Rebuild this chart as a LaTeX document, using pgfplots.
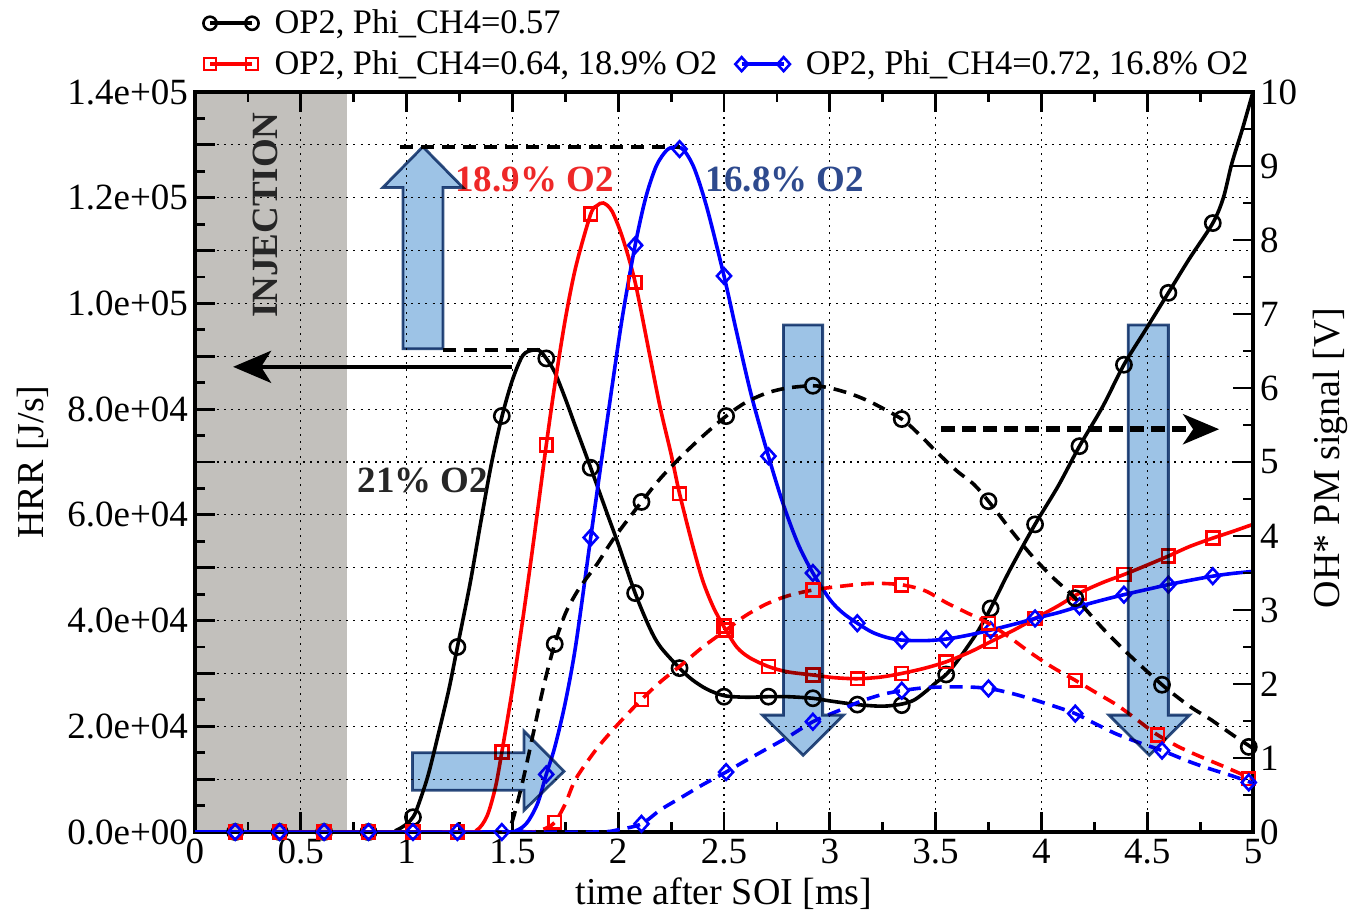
\documentclass[border=0pt]{standalone}
\usepackage{pgfplots}
\pgfplotsset{compat=1.18}
\usepackage{fontspec}
\setmainfont{Liberation Serif}
\usetikzlibrary{arrows.meta}

\definecolor{injgray}{RGB}{194,192,188}
\definecolor{arrfill}{RGB}{157,195,230}
\definecolor{arredge}{RGB}{47,79,128}
\definecolor{txtred}{RGB}{238,40,40}
\definecolor{txtblue}{RGB}{46,74,142}
\definecolor{txtgray}{RGB}{38,38,38}

\newcommand\fs{\fontsize{18.5}{22}\selectfont}
\newcommand\lfs{\fontsize{19}{22}\selectfont}
\newcommand\gfs{\fontsize{17.2}{20}\selectfont}

\pgfplotsset{
  solidln/.style={line width=1.8pt, smooth, tension=0.5, forget plot},
  dashln/.style={line width=1.8pt, smooth, tension=0.5, dash pattern=on 6.5pt off 4pt, forget plot},
  mk/.style={only marks, forget plot},
  circ/.style={mark=o, mark size=3.8pt, mark options={solid, line width=1.3pt}},
  sqr/.style={mark=square, mark size=3.2pt, mark options={solid, line width=1.3pt}},
  dia/.style={mark=diamond, mark size=3.9pt, mark options={solid, line width=1.3pt, xscale=1.2}},
}
\tikzset{blockarrow/.style={fill=arrfill, draw=arredge, line width=1.4pt, line join=miter}}

\begin{document}
\begin{tikzpicture}
\begin{axis}[
  set layers,
  at={(0,0)}, anchor=south west,
  scale only axis, width=529pt, height=370pt,
  xmin=0, xmax=5, ymin=0, ymax=140000,
  axis line style={line width=1.6pt},
  tick align=inside,
  major tick length=10pt, minor tick length=5pt,
  every tick/.style={black, line width=1.4pt},
  xtick={0,0.5,...,5}, minor x tick num=1,
  xticklabels={0,0.5,1,1.5,2,2.5,3,3.5,4,4.5,5},
  xtick pos=both, xticklabel pos=lower,
  ytick={0,10000,...,140000},
  yticklabels={0.0e+00,{},2.0e+04,{},4.0e+04,{},6.0e+04,{},8.0e+04,{},1.0e+05,{},1.2e+05,{},1.4e+05},
  minor y tick num=1,
  ytick pos=left,
  scaled y ticks=false,
  grid=major,
  major grid style={black, line width=0.6pt, dash pattern=on 1pt off 2.6pt},
  ticklabel style={font=\fs},
  legend columns=2,
  legend cell align=left,
  legend style={draw=none, fill=none, at={(0,1)}, anchor=south west, xshift=4pt, yshift=5pt,
    font=\gfs, inner sep=0pt, row sep=3pt,
    /tikz/every odd column/.append style={column sep=6pt},
    /tikz/every even column/.append style={column sep=7pt}},
  legend image code/.code={\draw[#1] plot coordinates {(0pt,0pt) (21pt,0pt)};},
]
\begin{pgfonlayer}{axis background}
\fill[injgray] (axis cs:0,0) rectangle (axis cs:0.718,140000);
\end{pgfonlayer}

\addlegendimage{black, line width=1.8pt, mark=o, mark size=3.3pt, mark options={line width=1.3pt}}
\addlegendentry{OP2, Phi\_CH4=0.57}
\addlegendimage{empty legend}
\addlegendentry{}
\addlegendimage{red, line width=1.8pt, mark=square, mark size=3pt, mark options={line width=1.3pt}}
\addlegendentry{OP2, Phi\_CH4=0.64, 18.9\% O2}
\addlegendimage{blue, line width=1.8pt, mark=diamond, mark size=3.5pt, mark options={line width=1.3pt, xscale=1.2}}
\addlegendentry{OP2, Phi\_CH4=0.72, 16.8\% O2}

% HRR, 21% O2
\addplot[solidln, black] coordinates {
(0,0) (0.9,0) (0.95,300) (1.0,1500) (1.03,2800) (1.05,4500) (1.1,10500) (1.15,18500)
(1.2,27000) (1.24,35000) (1.3,47000) (1.35,58500) (1.4,69500) (1.45,78500) (1.5,85500)
(1.55,90200) (1.6,91200) (1.63,91000) (1.66,89600) (1.7,87000) (1.75,82000) (1.8,76500)
(1.87,68900) (1.95,60000) (2.0,54500) (2.08,45200) (2.15,38500) (2.2,35000) (2.29,31000)
(2.35,28800) (2.42,27000) (2.5,25800) (2.6,25500) (2.71,25600) (2.8,25600) (2.92,25300)
(3.0,24800) (3.13,24100) (3.25,23800) (3.34,24200) (3.4,25000) (3.46,26800) (3.5,28200)
(3.55,29800) (3.6,32200) (3.65,35000) (3.7,38000) (3.76,42300) (3.85,49500) (3.97,58200)
(4.08,65500) (4.18,73000) (4.29,80500) (4.39,88400) (4.5,95500) (4.6,102000) (4.7,108500)
(4.81,115200) (4.86,120000) (4.9,126500) (4.95,133000) (5.0,140000)};
\addplot[mk, black, circ] coordinates {
(0.19,0) (0.40,0) (0.61,0) (0.82,0) (1.03,2800) (1.24,35000) (1.45,78700) (1.66,89600)
(1.87,68900) (2.08,45200) (2.29,31000) (2.5,25600) (2.71,25600) (2.92,25300) (3.13,24100)
(3.34,24000) (3.55,29800) (3.76,42300) (3.97,58200) (4.18,73000) (4.39,88400) (4.6,102000)
(4.81,115200)};

% HRR, 18.9% O2
\addplot[solidln, red] coordinates {
(0,0) (1.25,0) (1.33,300) (1.38,3000) (1.42,8500) (1.45,15100) (1.5,27000) (1.55,40500)
(1.6,55000) (1.66,73200) (1.7,84500) (1.75,97000) (1.8,107000) (1.87,116900) (1.9,118500)
(1.93,119000) (1.97,117500) (2.02,112500) (2.08,104000) (2.15,90000) (2.2,80000)
(2.25,71500) (2.29,64000) (2.35,54500) (2.4,47500) (2.45,42500) (2.5,38800) (2.56,35000)
(2.62,33000) (2.71,31300) (2.8,30300) (2.92,29700) (3.02,29200) (3.13,29000) (3.24,29300)
(3.34,30000) (3.45,31000) (3.55,32200) (3.66,34000) (3.76,36000) (3.87,38200) (3.97,40400)
(4.08,42800) (4.18,45200) (4.29,47200) (4.39,48700) (4.5,50500) (4.6,52200) (4.7,54000)
(4.81,55600) (4.9,56800) (5.0,58200)};
\addplot[mk, red, sqr] coordinates {
(0.19,0) (0.40,0) (0.61,0) (0.82,0) (1.03,0) (1.24,0) (1.45,15100) (1.66,73200) (1.87,116900)
(2.08,104000) (2.29,64000) (2.5,39000) (2.71,31300) (2.92,29700) (3.13,29000) (3.34,30000)
(3.55,32200) (3.76,36000) (3.97,40400) (4.18,45200) (4.39,48700) (4.6,52200) (4.81,55600)};

% HRR, 16.8% O2
\addplot[solidln, blue] coordinates {
(0,0) (1.45,0) (1.52,300) (1.57,1800) (1.62,5500) (1.66,10900) (1.7,16000) (1.75,24500)
(1.8,35500) (1.87,55700) (1.92,70000) (1.97,84000) (2.02,97500) (2.08,111000) (2.13,120000)
(2.18,126000) (2.23,129000) (2.27,129600) (2.31,129000) (2.36,125500) (2.42,118000)
(2.5,105200) (2.56,94500) (2.63,82500) (2.71,71100) (2.78,62000) (2.85,54500) (2.92,49000)
(3.0,44000) (3.06,41500) (3.13,39500) (3.2,37800) (3.27,36800) (3.34,36300) (3.45,36200)
(3.55,36500) (3.65,37200) (3.76,38200) (3.87,39300) (3.97,40400) (4.08,41500) (4.18,42700)
(4.29,43900) (4.39,44900) (4.5,45900) (4.6,46800) (4.7,47600) (4.81,48400) (4.9,48900)
(5.0,49300)};
\addplot[mk, blue, dia] coordinates {
(0.19,0) (0.40,0) (0.61,0) (0.82,0) (1.03,0) (1.24,0) (1.45,0) (1.66,10900) (1.87,55700)
(2.08,111000) (2.29,129200) (2.5,105200) (2.71,71100) (2.92,49000) (3.13,39500) (3.34,36300)
(3.55,36500) (3.76,38200) (3.97,40400) (4.18,42700) (4.39,44900) (4.6,46800) (4.81,48400)};

% annotations
\node[rotate=90, font=\fs\bfseries, txtgray] at (axis cs:0.331,116700) {INJECTION};
\node[font=\fs\bfseries, txtgray] at (axis cs:1.077,66600) {21\% O2};
\node[font=\fs\bfseries, txtred] at (axis cs:1.605,123400) {18.9\% O2};
\node[font=\fs\bfseries, txtblue] at (axis cs:2.788,123400) {16.8\% O2};
\draw[line width=2.2pt, -{Stealth[length=19pt, width=16pt, inset=5pt]}]
  (axis cs:1.5,88000) -- (axis cs:0.18,88000);
\draw[line width=1.7pt, dash pattern=on 6.5pt off 4pt]
  (axis cs:0.97,129600) -- (axis cs:2.29,129600);
\draw[line width=1.7pt, dash pattern=on 6.5pt off 4pt]
  (axis cs:1.17,91200) -- (axis cs:1.63,91200);
\draw[line width=2.8pt, dash pattern=on 7pt off 3.5pt, -{Stealth[length=18pt, width=15pt, inset=5pt]}]
  (axis cs:3.526,76200) -- (axis cs:4.84,76200);
\end{axis}

\begin{axis}[
  at={(0,0)}, anchor=south west,
  scale only axis, width=529pt, height=370pt,
  xmin=0, xmax=5, ymin=0, ymax=10,
  axis x line=none, axis y line*=right,
  axis line style={line width=1.6pt},
  tick align=inside,
  major tick length=10pt, minor tick length=5pt,
  every tick/.style={black, line width=1.4pt},
  ytick={0,1,...,10}, minor y tick num=1,
  yticklabels={0,1,2,3,4,5,6,7,8,9,10},
  ticklabel style={font=\fs},
]
% OH*, 21% O2
\addplot[dashln, black] coordinates {
(1.42,0) (1.47,0) (1.5,0.15) (1.55,0.7) (1.6,1.35) (1.65,2.0) (1.7,2.54) (1.75,2.95)
(1.8,3.22) (1.84,3.39) (1.9,3.62) (1.98,3.97) (2.11,4.46) (2.2,4.78) (2.3,5.08) (2.4,5.35)
(2.51,5.62) (2.6,5.8) (2.7,5.93) (2.8,6.0) (2.92,6.03) (3.0,6.0) (3.1,5.92) (3.2,5.8)
(3.34,5.58) (3.42,5.38) (3.5,5.15) (3.6,4.88) (3.68,4.7) (3.75,4.47) (3.85,4.1) (3.95,3.75)
(4.05,3.45) (4.16,3.16) (4.3,2.72) (4.42,2.38) (4.57,1.99) (4.7,1.7) (4.8,1.52) (4.9,1.32)
(5.0,1.13)};
\addplot[mk, black, circ] coordinates {
(1.70,2.54) (2.11,4.46) (2.51,5.62) (2.92,6.03) (3.34,5.58) (3.75,4.47) (4.16,3.16)
(4.57,1.99) (4.98,1.15)};

% OH*, 18.9% O2
\addplot[dashln, red] coordinates {
(1.45,0) (1.6,0) (1.65,0.04) (1.7,0.13) (1.75,0.38) (1.8,0.72) (1.9,1.13) (2.0,1.46)
(2.11,1.79) (2.2,2.03) (2.3,2.26) (2.4,2.5) (2.51,2.73) (2.6,2.92) (2.7,3.08) (2.8,3.19)
(2.92,3.27) (3.05,3.32) (3.2,3.36) (3.34,3.34) (3.45,3.26) (3.55,3.1) (3.65,2.96) (3.75,2.82)
(3.85,2.63) (3.95,2.42) (4.05,2.23) (4.16,2.05) (4.26,1.88) (4.36,1.71) (4.45,1.52)
(4.55,1.31) (4.65,1.15) (4.75,1.02) (4.85,0.9) (4.98,0.74) (5.0,0.72)};
\addplot[mk, red, sqr] coordinates {
(1.70,0.13) (2.11,1.79) (2.51,2.73) (2.92,3.27) (3.34,3.34) (3.75,2.82) (4.16,2.05)
(4.55,1.31) (4.98,0.72)};

% OH*, 16.8% O2
\addplot[dashln, blue] coordinates {
(1.45,0) (1.9,0) (2.0,0.03) (2.11,0.11) (2.2,0.3) (2.3,0.47) (2.4,0.64) (2.51,0.81)
(2.6,0.96) (2.7,1.12) (2.8,1.28) (2.92,1.49) (3.05,1.65) (3.15,1.77) (3.25,1.86) (3.34,1.91)
(3.45,1.95) (3.55,1.96) (3.65,1.96) (3.75,1.94) (3.85,1.88) (3.95,1.8) (4.05,1.71) (4.16,1.6)
(4.25,1.47) (4.35,1.33) (4.45,1.22) (4.57,1.1) (4.7,0.95) (4.8,0.85) (4.9,0.76) (5.0,0.66)};
\addplot[mk, blue, dia] coordinates {
(2.11,0.11) (2.51,0.81) (2.92,1.49) (3.34,1.91) (3.75,1.94) (4.16,1.6) (4.57,1.1) (4.98,0.67)};

% block arrows
\begin{scope}[blend mode=multiply]
\path[blockarrow] (axis cs:0.983,6.53) -- (axis cs:1.172,6.53) -- (axis cs:1.172,8.71)
  -- (axis cs:1.266,8.71) -- (axis cs:1.077,9.26) -- (axis cs:0.888,8.71)
  -- (axis cs:0.983,8.71) -- cycle;
\path[blockarrow] (axis cs:1.028,0.564) -- (axis cs:1.555,0.564) -- (axis cs:1.555,0.293)
  -- (axis cs:1.744,0.82) -- (axis cs:1.555,1.364) -- (axis cs:1.555,1.071)
  -- (axis cs:1.028,1.071) -- cycle;
\path[blockarrow] (axis cs:2.781,6.85) -- (axis cs:2.966,6.85) -- (axis cs:2.966,1.579)
  -- (axis cs:3.065,1.579) -- (axis cs:2.874,1.036) -- (axis cs:2.682,1.579)
  -- (axis cs:2.781,1.579) -- cycle;
\path[blockarrow] (axis cs:4.41,6.85) -- (axis cs:4.60,6.85) -- (axis cs:4.60,1.579)
  -- (axis cs:4.70,1.579) -- (axis cs:4.51,1.036) -- (axis cs:4.32,1.579)
  -- (axis cs:4.41,1.579) -- cycle;
\end{scope}
\end{axis}

\node[rotate=90, font=\lfs] at (-81pt,185pt) {HRR [J/s]};
\node[rotate=90, font=\lfs] at (567.5pt,187pt) {OH* PM signal [V]};
\node[anchor=base, font=\lfs] at (264.5pt,-36.5pt) {time after SOI [ms]};

\pgfresetboundingbox
\path (-97.5pt,-41.5pt) rectangle (577.5pt,416pt);
\end{tikzpicture}
\end{document}
